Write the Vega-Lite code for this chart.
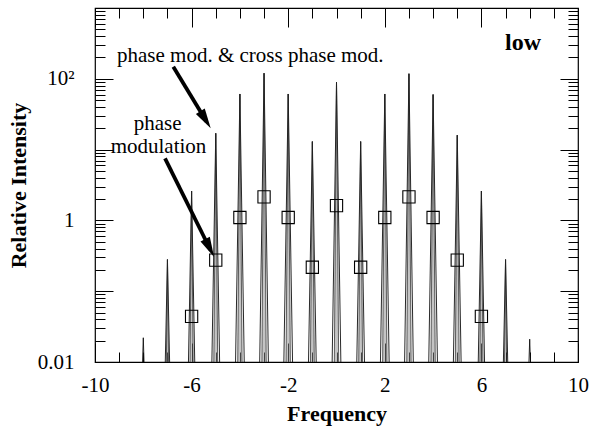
{
  "$schema": "https://vega.github.io/schema/vega-lite/v6.json",
  "width": 483,
  "height": 354,
  "autosize": {"type": "none"},
  "padding": {"left": 95, "top": 8, "right": 14, "bottom": 64},
  "background": "white",
  "config": {
    "view": {"stroke": "#000", "strokeWidth": 1.2},
    "axis": {"domain": false, "grid": false, "tickColor": "#000", "tickWidth": 1, "labelFont": "Liberation Serif", "labelFontSize": 21, "labelColor": "#000", "titleFont": "Liberation Serif", "titleColor": "#000", "labelOverlap": false, "labelFlush": false}
  },
  "datasets": {
    "spk": [
      {"n": -8, "k": "o", "f": -8.03, "v": 0.01}, {"n": -8, "k": "o", "f": -8, "v": 0.022}, {"n": -8, "k": "o", "f": -7.97, "v": 0.01},
      {"n": -7, "k": "o", "f": -7.09, "v": 0.01}, {"n": -7, "k": "o", "f": -7, "v": 0.28}, {"n": -7, "k": "o", "f": -6.91, "v": 0.01},
      {"n": -7, "k": "i", "f": -7.045, "v": 0.01}, {"n": -7, "k": "i", "f": -7, "v": 0.28}, {"n": -7, "k": "i", "f": -6.955, "v": 0.01},
      {"n": -6, "k": "o", "f": -6.13, "v": 0.01}, {"n": -6, "k": "o", "f": -6, "v": 2.6}, {"n": -6, "k": "o", "f": -5.87, "v": 0.01},
      {"n": -6, "k": "i", "f": -6.065, "v": 0.01}, {"n": -6, "k": "i", "f": -6, "v": 2.6}, {"n": -6, "k": "i", "f": -5.935, "v": 0.01},
      {"n": -5, "k": "o", "f": -5.16, "v": 0.01}, {"n": -5, "k": "o", "f": -5, "v": 17}, {"n": -5, "k": "o", "f": -4.84, "v": 0.01},
      {"n": -5, "k": "i", "f": -5.08, "v": 0.01}, {"n": -5, "k": "i", "f": -5, "v": 17}, {"n": -5, "k": "i", "f": -4.92, "v": 0.01},
      {"n": -4, "k": "o", "f": -4.18, "v": 0.01}, {"n": -4, "k": "o", "f": -4, "v": 61}, {"n": -4, "k": "o", "f": -3.82, "v": 0.01},
      {"n": -4, "k": "i", "f": -4.09, "v": 0.01}, {"n": -4, "k": "i", "f": -4, "v": 61}, {"n": -4, "k": "i", "f": -3.91, "v": 0.01},
      {"n": -3, "k": "o", "f": -3.18, "v": 0.01}, {"n": -3, "k": "o", "f": -3, "v": 120}, {"n": -3, "k": "o", "f": -2.82, "v": 0.01},
      {"n": -3, "k": "i", "f": -3.09, "v": 0.01}, {"n": -3, "k": "i", "f": -3, "v": 120}, {"n": -3, "k": "i", "f": -2.91, "v": 0.01},
      {"n": -2, "k": "o", "f": -2.18, "v": 0.01}, {"n": -2, "k": "o", "f": -2, "v": 61}, {"n": -2, "k": "o", "f": -1.82, "v": 0.01},
      {"n": -2, "k": "i", "f": -2.09, "v": 0.01}, {"n": -2, "k": "i", "f": -2, "v": 61}, {"n": -2, "k": "i", "f": -1.91, "v": 0.01},
      {"n": -1, "k": "o", "f": -1.16, "v": 0.01}, {"n": -1, "k": "o", "f": -1, "v": 13}, {"n": -1, "k": "o", "f": -0.84, "v": 0.01},
      {"n": -1, "k": "i", "f": -1.08, "v": 0.01}, {"n": -1, "k": "i", "f": -1, "v": 13}, {"n": -1, "k": "i", "f": -0.92, "v": 0.01},
      {"n": 0, "k": "o", "f": -0.18, "v": 0.01}, {"n": 0, "k": "o", "f": 0, "v": 90}, {"n": 0, "k": "o", "f": 0.18, "v": 0.01},
      {"n": 0, "k": "i", "f": -0.09, "v": 0.01}, {"n": 0, "k": "i", "f": 0, "v": 90}, {"n": 0, "k": "i", "f": 0.09, "v": 0.01},
      {"n": 1, "k": "o", "f": 0.84, "v": 0.01}, {"n": 1, "k": "o", "f": 1, "v": 13}, {"n": 1, "k": "o", "f": 1.16, "v": 0.01},
      {"n": 1, "k": "i", "f": 0.92, "v": 0.01}, {"n": 1, "k": "i", "f": 1, "v": 13}, {"n": 1, "k": "i", "f": 1.08, "v": 0.01},
      {"n": 2, "k": "o", "f": 1.82, "v": 0.01}, {"n": 2, "k": "o", "f": 2, "v": 61}, {"n": 2, "k": "o", "f": 2.18, "v": 0.01},
      {"n": 2, "k": "i", "f": 1.91, "v": 0.01}, {"n": 2, "k": "i", "f": 2, "v": 61}, {"n": 2, "k": "i", "f": 2.09, "v": 0.01},
      {"n": 3, "k": "o", "f": 2.82, "v": 0.01}, {"n": 3, "k": "o", "f": 3, "v": 118}, {"n": 3, "k": "o", "f": 3.18, "v": 0.01},
      {"n": 3, "k": "i", "f": 2.91, "v": 0.01}, {"n": 3, "k": "i", "f": 3, "v": 118}, {"n": 3, "k": "i", "f": 3.09, "v": 0.01},
      {"n": 4, "k": "o", "f": 3.82, "v": 0.01}, {"n": 4, "k": "o", "f": 4, "v": 60}, {"n": 4, "k": "o", "f": 4.18, "v": 0.01},
      {"n": 4, "k": "i", "f": 3.91, "v": 0.01}, {"n": 4, "k": "i", "f": 4, "v": 60}, {"n": 4, "k": "i", "f": 4.09, "v": 0.01},
      {"n": 5, "k": "o", "f": 4.84, "v": 0.01}, {"n": 5, "k": "o", "f": 5, "v": 16}, {"n": 5, "k": "o", "f": 5.16, "v": 0.01},
      {"n": 5, "k": "i", "f": 4.92, "v": 0.01}, {"n": 5, "k": "i", "f": 5, "v": 16}, {"n": 5, "k": "i", "f": 5.08, "v": 0.01},
      {"n": 6, "k": "o", "f": 5.87, "v": 0.01}, {"n": 6, "k": "o", "f": 6, "v": 2.6}, {"n": 6, "k": "o", "f": 6.13, "v": 0.01},
      {"n": 6, "k": "i", "f": 5.935, "v": 0.01}, {"n": 6, "k": "i", "f": 6, "v": 2.6}, {"n": 6, "k": "i", "f": 6.065, "v": 0.01},
      {"n": 7, "k": "o", "f": 6.91, "v": 0.01}, {"n": 7, "k": "o", "f": 7, "v": 0.28}, {"n": 7, "k": "o", "f": 7.09, "v": 0.01},
      {"n": 7, "k": "i", "f": 6.955, "v": 0.01}, {"n": 7, "k": "i", "f": 7, "v": 0.28}, {"n": 7, "k": "i", "f": 7.045, "v": 0.01},
      {"n": 8, "k": "o", "f": 7.97, "v": 0.01}, {"n": 8, "k": "o", "f": 8, "v": 0.021}, {"n": 8, "k": "o", "f": 8.03, "v": 0.01}
    ],
    "sq": [
      {"f": -6, "v": 0.044}, {"f": -5, "v": 0.275}, {"f": -4, "v": 1.1}, {"f": -3, "v": 2.15}, {"f": -2, "v": 1.1},
      {"f": -1, "v": 0.218}, {"f": 0, "v": 1.62}, {"f": 1, "v": 0.218}, {"f": 2, "v": 1.1}, {"f": 3, "v": 2.15},
      {"f": 4, "v": 1.1}, {"f": 5, "v": 0.275}, {"f": 6, "v": 0.044}
    ],
    "shafts": [
      {"x1": -6.758, "y1": 148, "x2": -5.383, "y2": 24.9},
      {"x1": -7.101, "y1": 7.54, "x2": -5.222, "y2": 0.385}
    ],
    "notes": [
      {"t": "phase mod. & cross phase mod.", "f": -9.089, "v": 174},
      {"t": "phase", "f": -8.40, "v": 19.0},
      {"t": "modulation", "f": -9.35, "v": 8.95}
    ]
  },
  "layer": [
    {
      "data": {"name": "spk"},
      "transform": [{"filter": "datum.k == 'i'"}],
      "mark": {"type": "area", "color": "#8a8a8a", "opacity": 0.5},
      "encoding": {
        "x": {"field": "f", "type": "quantitative", "scale": {"domain": [-10, 10], "nice": false, "zero": false},
          "axis": {"orient": "bottom", "values": [-10, -6, -2, 2, 6, 10], "tickSize": -19, "labelPadding": 31, "labelBaseline": "top",
            "labelExpr": "'' + datum.value",
            "title": "Frequency", "titleFontSize": 22, "titleFontWeight": "bold", "titleY": 58, "titleBaseline": "alphabetic"}},
        "y": {"field": "v", "type": "quantitative", "scale": {"type": "log", "domain": [0.01, 1000], "nice": false},
          "axis": {"orient": "left", "values": [0.01, 0.1, 1, 10, 100, 1000], "tickSize": -18, "labelPadding": 39,
            "labelExpr": "datum.value == 0.01 ? '0.01' : datum.value == 1 ? '1' : datum.value == 100 ? '10²' : ''",
            "title": "Relative Intensity", "titleFontSize": 22, "titleFontWeight": "bold", "titleX": -70, "titleBaseline": "alphabetic"}},
        "y2": {"datum": 0.01},
        "detail": {"field": "n"}
      }
    },
    {
      "data": {"name": "spk"},
      "transform": [{"filter": "datum.k == 'o'"}],
      "mark": {"type": "line", "color": "#111", "strokeWidth": 0.9},
      "encoding": {
        "x": {"field": "f", "type": "quantitative",
          "axis": {"orient": "bottom", "values": [-9, -8, -7, -5, -4, -3, -1, 0, 1, 3, 4, 5, 7, 8, 9], "tickSize": -10, "labels": false, "title": null}},
        "y": {"field": "v", "type": "quantitative",
          "axis": {"orient": "left", "values": [0.02, 0.03, 0.04, 0.05, 0.06, 0.07, 0.08, 0.09, 0.2, 0.3, 0.4, 0.5, 0.6, 0.7, 0.8, 0.9, 2, 3, 4, 5, 6, 7, 8, 9, 20, 30, 40, 50, 60, 70, 80, 90, 200, 300, 400, 500, 600, 700, 800, 900], "tickSize": -10, "labels": false, "title": null}},
        "detail": {"field": "n"}
      }
    },
    {
      "data": {"name": "spk"},
      "transform": [{"filter": "datum.k == 'i'"}],
      "mark": {"type": "line", "color": "#222", "strokeWidth": 0.7},
      "encoding": {
        "x": {"field": "f", "type": "quantitative",
          "axis": {"orient": "top", "values": [-10, -6, -2, 2, 6, 10], "tickSize": -19, "labels": false, "title": null}},
        "y": {"field": "v", "type": "quantitative",
          "axis": {"orient": "right", "values": [0.01, 0.1, 1, 10, 100, 1000], "tickSize": -18, "labels": false, "title": null}},
        "detail": {"field": "n"}
      }
    },
    {
      "data": {"name": "sq"},
      "mark": {"type": "point", "shape": "square", "size": 150, "filled": false, "stroke": "#000", "strokeWidth": 1.1, "opacity": 1},
      "encoding": {
        "x": {"field": "f", "type": "quantitative",
          "axis": {"orient": "top", "values": [-9, -8, -7, -5, -4, -3, -1, 0, 1, 3, 4, 5, 7, 8, 9], "tickSize": -10, "labels": false, "title": null}},
        "y": {"field": "v", "type": "quantitative",
          "axis": {"orient": "right", "values": [0.02, 0.03, 0.04, 0.05, 0.06, 0.07, 0.08, 0.09, 0.2, 0.3, 0.4, 0.5, 0.6, 0.7, 0.8, 0.9, 2, 3, 4, 5, 6, 7, 8, 9, 20, 30, 40, 50, 60, 70, 80, 90, 200, 300, 400, 500, 600, 700, 800, 900], "tickSize": -10, "labels": false, "title": null}}
      }
    },
    {
      "data": {"name": "shafts"},
      "mark": {"type": "rule", "color": "#000", "strokeWidth": 3.8},
      "encoding": {
        "x": {"field": "x1", "type": "quantitative", "axis": null},
        "y": {"field": "y1", "type": "quantitative", "axis": null},
        "x2": {"field": "x2"},
        "y2": {"field": "y2"}
      }
    },
    {
      "data": {"values": [{"f": -5.209, "v": 20.0}]},
      "mark": {"type": "point", "shape": "M0,0L-0.26,1L0.26,1Z", "size": 1600, "filled": true, "color": "#000", "opacity": 1, "angle": 148.7},
      "encoding": {
        "x": {"field": "f", "type": "quantitative", "axis": null},
        "y": {"field": "v", "type": "quantitative", "axis": null}
      }
    },
    {
      "data": {"values": [{"f": -5.07, "v": 0.304}]},
      "mark": {"type": "point", "shape": "M0,0L-0.26,1L0.26,1Z", "size": 1600, "filled": true, "color": "#000", "opacity": 1, "angle": 153.6},
      "encoding": {
        "x": {"field": "f", "type": "quantitative", "axis": null},
        "y": {"field": "v", "type": "quantitative", "axis": null}
      }
    },
    {
      "data": {"name": "notes"},
      "mark": {"type": "text", "align": "left", "baseline": "alphabetic", "font": "Liberation Serif", "fontSize": 21, "color": "#000"},
      "encoding": {
        "x": {"field": "f", "type": "quantitative", "axis": null},
        "y": {"field": "v", "type": "quantitative", "axis": null},
        "text": {"field": "t"}
      }
    },
    {
      "data": {"values": [{"t": "low", "f": 6.977, "v": 255}]},
      "mark": {"type": "text", "align": "left", "baseline": "alphabetic", "font": "Liberation Serif", "fontSize": 24, "fontWeight": "bold", "color": "#000"},
      "encoding": {
        "x": {"field": "f", "type": "quantitative", "axis": null},
        "y": {"field": "v", "type": "quantitative", "axis": null},
        "text": {"field": "t"}
      }
    }
  ],
  "resolve": {"axis": {"x": "independent", "y": "independent"}}
}
